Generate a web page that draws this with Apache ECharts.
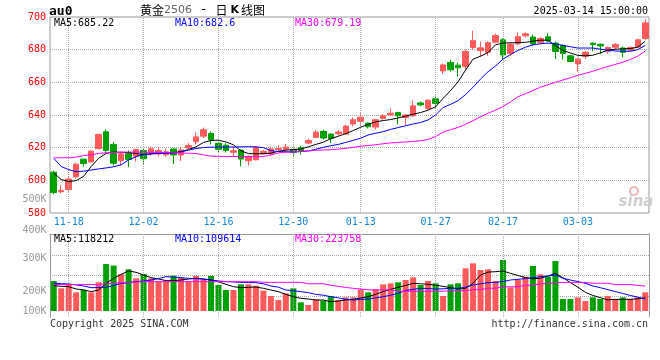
<!DOCTYPE html>
<html><head><meta charset="utf-8">
<script src="https://cdn.jsdelivr.net/npm/echarts@6/dist/echarts.min.js"></script>
<style>html,body{margin:0;padding:0;background:#fff}#c{width:660px;height:360px}</style>
</head><body><div id="c"></div>
<script>
const dates = ['2024-11-14','2024-11-15','2024-11-18','2024-11-19','2024-11-20','2024-11-21','2024-11-22','2024-11-25','2024-11-26','2024-11-27','2024-11-28','2024-11-29',
'2024-12-02','2024-12-03','2024-12-04','2024-12-05','2024-12-06','2024-12-09','2024-12-10','2024-12-11','2024-12-12','2024-12-13','2024-12-16','2024-12-17','2024-12-18','2024-12-19','2024-12-20','2024-12-23','2024-12-24','2024-12-25','2024-12-26','2024-12-27','2024-12-30','2024-12-31',
'2025-01-02','2025-01-03','2025-01-06','2025-01-07','2025-01-08','2025-01-09','2025-01-10','2025-01-13','2025-01-14','2025-01-15','2025-01-16','2025-01-17','2025-01-20','2025-01-21','2025-01-22','2025-01-23','2025-01-24','2025-01-27',
'2025-02-05','2025-02-06','2025-02-07','2025-02-10','2025-02-11','2025-02-12','2025-02-13','2025-02-14','2025-02-17','2025-02-18','2025-02-19','2025-02-20','2025-02-21','2025-02-24','2025-02-25','2025-02-26','2025-02-27','2025-02-28',
'2025-03-03','2025-03-04','2025-03-05','2025-03-06','2025-03-07','2025-03-10','2025-03-11','2025-03-12','2025-03-13','2025-03-14'];

const opens = [605,593,594.3,602.2,612.9,611.3,619.4,629.7,622,612,617,614.8,618.3,616.5,616.2,615.6,619.2,615.5,619.8,623.6,
627,628.7,622.7,621.5,617.2,618.5,612,612.6,616.3,616.2,618.8,619,619,620,622.8,626.3,630,628.3,628.5,628.3,
634.5,636.1,635,632.6,637.9,640,641.5,638.5,639.5,647.4,644,649.9,667,672.2,670.5,669.7,681.3,679.4,678.4,684.6,
686,677.7,683.6,688.5,687.7,684.2,687.9,684,682.5,676.2,671.3,676,684,683.3,679,681.5,681,679.7,681.6,686.8];
const closes = [592.5,593.8,600.8,609.9,610.3,617.8,628.1,618.3,610.5,616.3,612.8,618.8,613.2,619.3,618.2,617.5,615.5,618.6,621.3,626.6,
631,624.8,619,618.3,618.1,613,614.5,620.2,617.8,619.2,619.6,620.3,617.2,617.8,624.4,629.5,625.9,625.7,629.6,633.2,
637.1,638.6,632.8,637.1,639.5,641.1,639.5,640,645.6,646.2,649,647.1,670.7,667.7,668.9,678.9,685.5,681.1,684.2,688.6,
676.8,683.3,688,689.7,683.6,686.8,685.3,678.9,677.7,672.8,674.2,678.4,683.2,682.3,681.3,683.2,678.4,681.3,686,696.4];
const lows = [591.5,592,593.1,601.2,608.3,610.7,619,617,609,609,608,611.5,610,615,615,614.5,610,611.8,619,622,
626,622,617,617,614.5,608.5,609,612.2,615.8,615,617,617.5,615,615.8,622,626,625,622.8,627.5,627.8,
633,633.4,631.8,631,637.1,639.6,634.3,633.4,638.8,645.3,643,644.4,665.2,666.5,663.5,668,680,675.7,676.3,684,
674,676,682.8,687.7,682.5,683.4,684.5,674.2,674,672.5,666.6,674.2,679,677.3,677.5,679.5,675.4,679,681,686];
const highs = [606,597,602.4,610.9,613.3,618.6,628.5,631.3,623.5,617.5,618.3,619.3,619.5,620.7,620.5,619.5,619.6,620.6,622.8,629.6,
632.3,630,623.8,622.8,620.6,619,615.3,621,618.6,620.6,621.3,622.2,620,621,625.6,630.8,631,628.9,630.8,634,
638.6,641.2,635.5,637.5,640.6,644.1,642,640.6,649,648.2,649.8,651.9,671.5,673.8,672,680,691.6,685,685,689.8,
687,684.5,690.5,690.6,689.2,687.6,690,685,683.3,676.8,675,679.2,684.5,683.8,682,684,682,682,686.8,698.6];

const ma5 = [604.5,600.5,599.3,599.8,602.5,608.5,613.5,616.5,617.3,617.2,617,616.4,615.8,616.2,616.6,616.8,617,617.6,618.8,620.5,
623.2,624.4,624.6,623.5,621.8,618,616.4,616.2,616.3,616.6,617.8,618.5,618.8,619.2,620.5,622,623.3,625.6,627,628.6,
630.5,632.5,634.3,635.8,636.6,637.2,638.2,639.3,640.5,641.5,643,645,650.2,655,660.3,667.5,674.2,676,678.2,683,
684,684.2,684.3,684.5,685.2,685.8,685.8,682.5,679.5,678,676.5,676.2,676.6,678,679.7,680.3,680.5,680.7,681.5,685.22];
const ma10 = [613.5,608.5,606.5,605.3,605.6,606.3,607,607.6,608.3,609.5,612.5,614.5,615.8,616.2,616.4,616.6,616.7,617.4,618.5,619.5,
620.1,620.3,620.4,620.4,620.4,620.5,620.6,620.5,620,618.2,617.6,617.5,617.4,617.6,618,619,620.2,621.2,622,623.2,
624.5,625.8,627.8,628.8,629.8,631.2,632.3,633.4,634.5,635.4,637,640,644.6,646.5,648.8,652.5,657,662,666.5,670,
674.2,677,679.5,681.5,683,683.6,684,683.6,682.6,681.8,681,681,681,680.3,679.7,679.2,679,679,680,682.6];
const ma30 = [613.8,613.8,613.8,614.2,615.2,615.6,616.5,616.9,617,617.2,617.3,617.3,617.2,617.2,617.1,617,616.9,616.7,616.6,616.4,
615.6,614.8,614.7,614.6,614.6,614.5,614.5,614.5,614.6,615.5,616.8,617.2,617.4,617.7,618,618.4,618.6,618.8,619.1,619.6,
620.2,620.9,621.3,621.8,622.4,622.9,623.2,623.5,623.8,624.3,625,626.8,629.6,631,632.4,634.3,636.5,638.9,641,643,
645.2,648,651.2,653,655,657,658.6,660,661.4,662.8,664.3,665.5,666.8,668.3,669.7,671,672.3,674,676,679.19];

const volumes = [270000,204000,234000,168000,189000,168000,258000,423000,409000,330000,375000,294000,333000,294000,264000,264000,318000,300000,264000,315000,
285000,315000,234000,189000,189000,240000,240000,228000,183000,135000,99000,159000,204000,78000,54000,105000,93000,135000,99000,123000,
123000,195000,168000,195000,240000,249000,258000,279000,303000,234000,270000,249000,135000,240000,249000,384000,429000,369000,375000,270000,
459000,213000,279000,309000,405000,330000,309000,450000,108000,108000,123000,90000,123000,108000,135000,108000,123000,108000,123000,168000];
const volMa5 = [228000,222000,219000,198000,190000,174000,189000,249000,294000,330000,360000,348000,324000,300000,288000,273000,273000,279000,288000,294000,
288000,279000,264000,240000,219000,210000,213000,216000,204000,189000,174000,150000,129000,114000,108000,99000,99000,84000,90000,99000,
105000,117000,129000,150000,175000,195000,213000,230000,249000,245000,240000,232000,222000,210000,198000,204000,250000,324000,350000,354000,
360000,339000,320000,300000,290000,295000,315000,339000,300000,255000,215000,168000,140000,120000,100000,105000,105000,105000,110000,118212];
const volMa10 = [249000,246000,243000,235000,225000,210000,211000,213000,230000,249000,255000,264000,270000,279000,292000,309000,305000,300000,294000,291000,
288000,280000,270000,265000,262000,258000,256000,255000,245000,225000,215000,189000,182000,174000,165000,150000,142000,129000,118000,105000,
99000,104000,108000,118000,129000,142000,159000,185000,195000,204000,202000,198000,200000,204000,204000,215000,234000,245000,255000,258000,
265000,279000,285000,292000,300000,309000,315000,324000,295000,279000,265000,249000,225000,210000,192000,175000,158000,140000,125000,109614];
const volMa30 = [238000,238000,238000,238000,238000,238000,238000,245000,250000,254000,258000,261000,263000,264000,264000,264000,264000,264000,264000,264000,
264000,264000,264000,264000,264000,264000,264000,264000,258000,258000,258000,258000,258000,258000,245000,245000,245000,232000,222000,212000,
204000,198000,190000,190000,190000,190000,178000,178000,178000,178000,178000,178000,178000,182000,182000,182000,192000,192000,205000,205000,
218000,218000,218000,232000,232000,245000,245000,257000,257000,257000,257000,257000,250000,250000,250000,238000,238000,238000,230000,223758];

const xTickLabels = ['11-18','12-02','12-16','12-30','01-13','01-27','02-17','03-03'];
const volTickLabels = ['500K','400K','300K','200K','100K'];

const RED = '#ff5a5a', GREEN = '#00a000';
const MONO = '"DejaVu Sans Mono", monospace';
const labelSet = new Set(xTickLabels);
const candleData = dates.map((d, i) => [opens[i], closes[i], lows[i], highs[i]]);
const volData = volumes.map((v, i) => ({ value: v, itemStyle: { color: closes[i] >= opens[i] ? RED : GREEN } }));
const vLines = dates.filter(d => labelSet.has(d.slice(5))).map(d => ({ xAxis: d }));
const gridMark = { symbol: ['none', 'none'], silent: true, label: { show: false }, lineStyle: { type: 'dotted', color: '#aaa', width: 1 }, data: vLines, animation: false };
const n = dates.length;
const lastMA = a => String(a[a.length - 1]);

function txt(x, y, text, fill, extra) {
  return Object.assign({ type: 'text', x: x, y: y, z: 100, silent: true,
    style: Object.assign({ text: text, fill: fill, font: '10px ' + MONO, verticalAlign: 'middle' }, extra || {}) });
}
const volLabelY = [199, 230, 258, 291, 311];

const chart = echarts.init(document.getElementById('c'), null, { renderer: 'canvas' });
chart.setOption({
  animation: false,
  backgroundColor: '#fff',
  grid: [
    { left: 50, top: 17, width: 599, height: 196, show: true, borderColor: '#999', borderWidth: 1, backgroundColor: 'transparent' },
    { left: 50, top: 234, width: 599, height: 83 }
  ],
  xAxis: [
    { type: 'category', gridIndex: 0, data: dates, boundaryGap: true,
      axisLine: { show: false }, axisTick: { show: false }, splitLine: { show: false },
      axisLabel: { interval: (i, v) => labelSet.has(v.slice(5)), formatter: v => v.slice(5), color: '#1188dd', fontFamily: MONO, fontSize: 10, margin: 4 } },
    { type: 'category', gridIndex: 1, data: dates, boundaryGap: true, position: 'top',
      axisLine: { show: true, onZero: false, lineStyle: { color: '#999' } }, axisTick: { show: false }, axisLabel: { show: false }, splitLine: { show: false } }
  ],
  yAxis: [
    { type: 'value', gridIndex: 0, min: 580, max: 700, interval: 20,
      axisLine: { show: false }, axisTick: { show: false },
      axisLabel: { color: '#ff0000', fontFamily: MONO, fontSize: 10, margin: 4 },
      splitLine: { show: true, showMinLine: false, showMaxLine: false, lineStyle: { type: 'dotted', color: '#aaa' } } },
    { type: 'value', gridIndex: 1, min: -54000, max: 693000,
      axisLine: { show: true, lineStyle: { color: '#999' } }, axisTick: { show: false }, axisLabel: { show: false }, splitLine: { show: false } },
    { type: 'value', gridIndex: 1, position: 'right', min: 0, max: 4, interval: 1,
      axisLine: { show: true, lineStyle: { color: '#999' } }, axisTick: { show: false }, axisLabel: { show: false },
      splitLine: { show: true, showMinLine: false, showMaxLine: false, lineStyle: { type: 'dotted', color: '#aaa' } } }
  ],
  series: [
    { type: 'candlestick', xAxisIndex: 0, yAxisIndex: 0, data: candleData, barWidth: 6,
      itemStyle: { color: RED, color0: GREEN, borderColor: RED, borderColor0: GREEN, borderWidth: 1 },
      markLine: gridMark },
    { type: 'line', xAxisIndex: 0, yAxisIndex: 0, data: ma5, symbol: 'none', z: 5, lineStyle: { color: '#000', width: 1 } },
    { type: 'line', xAxisIndex: 0, yAxisIndex: 0, data: ma10, symbol: 'none', z: 5, lineStyle: { color: '#0000ff', width: 1 } },
    { type: 'line', xAxisIndex: 0, yAxisIndex: 0, data: ma30, symbol: 'none', z: 5, lineStyle: { color: '#ff00ff', width: 1 } },
    { type: 'bar', xAxisIndex: 1, yAxisIndex: 1, data: volData, barWidth: 6, markLine: gridMark },
    { type: 'line', xAxisIndex: 1, yAxisIndex: 1, data: volMa5, symbol: 'none', z: 5, lineStyle: { color: '#000', width: 1 } },
    { type: 'line', xAxisIndex: 1, yAxisIndex: 1, data: volMa10, symbol: 'none', z: 5, lineStyle: { color: '#0000ff', width: 1 } },
    { type: 'line', xAxisIndex: 1, yAxisIndex: 1, data: volMa30, symbol: 'none', z: 5, lineStyle: { color: '#ff00ff', width: 1 } }
  ],
  graphic: [
    txt(49, 11.5, 'au0', '#000', { font: 'bold 13px ' + MONO }),
    { type: 'text', x: 140, y: 10, z: 100, silent: true, style: {
      text: '{cn|黄金}{num|2506}{sep| - }{cn|日}{k|K}{cn|线图}', verticalAlign: 'middle',
      rich: {
        cn: { font: '12px "Noto Sans CJK SC"', fill: '#000' },
        num: { font: '11px "DejaVu Sans"', fill: '#666' },
        sep: { font: '13px ' + MONO, fill: '#000' },
        k: { font: 'bold 11px "DejaVu Sans"', fill: '#000', padding: [0, 2, 0, 3] }
      } } },
    txt(648, 11.5, '2025-03-14 15:00:00', '#000', { align: 'right' }),
    txt(54, 23.5, 'MA5:' + lastMA(ma5), '#000'),
    txt(175, 23.5, 'MA10:' + lastMA(ma10), '#0000ff'),
    txt(295, 23.5, 'MA30:' + lastMA(ma30), '#ff00ff'),
    txt(54, 239.5, 'MA5:' + lastMA(volMa5), '#000'),
    txt(175, 239.5, 'MA10:' + lastMA(volMa10), '#0000ff'),
    txt(295, 239.5, 'MA30:' + lastMA(volMa30), '#ff00ff'),
    ...volTickLabels.map((t, i) => txt(46.5, volLabelY[i], t, '#999', { align: 'right' })),
    txt(50, 324, 'Copyright 2025 SINA.COM', '#333'),
    txt(648, 324, 'http://finance.sina.com.cn', '#333', { align: 'right' }),
    { type: 'circle', z: 1, silent: true, shape: { cx: 634, cy: 191, r: 4 }, style: { fill: 'none', stroke: '#f0b8b8', lineWidth: 2 } },
    txt(636, 202, 'sina', '#cfcfcf', { font: 'italic bold 15px "DejaVu Sans"', align: 'center' })
  ]
});
</script></body></html>
